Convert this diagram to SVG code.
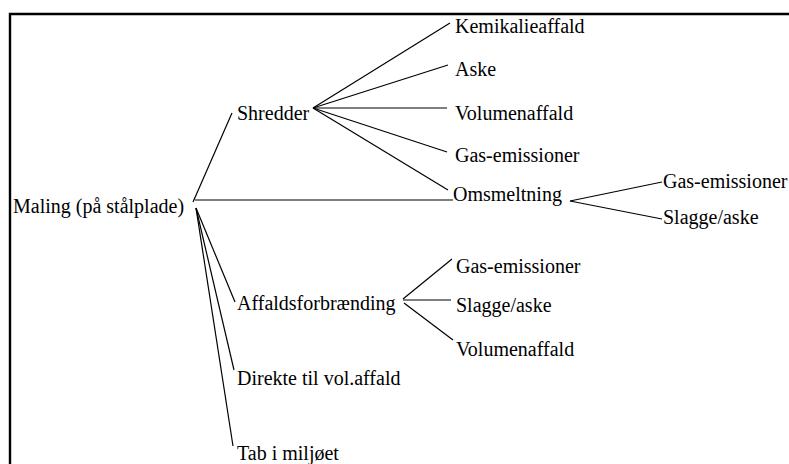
<svg xmlns="http://www.w3.org/2000/svg" width="789" height="464" viewBox="0 0 789 464" font-family="Liberation Serif" font-size="20">
<style>
text{font-family:'Liberation Serif';font-size:20px}
.c line{stroke:#000;stroke-width:1.2}
.b{stroke:#000;stroke-width:2.4;fill:none}
</style>
<rect width="789" height="464" fill="#fff"/>
<path class="b" d="M10,465 V14 H790"/>
<g class="c" id="connectors">
<line x1="193" y1="202" x2="232" y2="113"/>
<line x1="195" y1="200" x2="453" y2="200"/>
<line x1="196" y1="208" x2="235" y2="302"/>
<line x1="196" y1="208" x2="234" y2="370"/>
<line x1="196" y1="208" x2="233" y2="446"/>
<line x1="313" y1="108" x2="450" y2="23"/>
<line x1="313" y1="108" x2="448" y2="65"/>
<line x1="313" y1="108" x2="447" y2="108"/>
<line x1="313" y1="108" x2="447" y2="152"/>
<line x1="313" y1="108" x2="448" y2="190"/>
<line x1="570" y1="201" x2="662" y2="182"/>
<line x1="570" y1="201" x2="662" y2="219"/>
<line x1="403" y1="299" x2="452" y2="259"/>
<line x1="403" y1="300" x2="451" y2="300"/>
<line x1="404" y1="303" x2="453" y2="340"/>
</g>
<g id="maling"><text x="13" y="213">Maling (på stålplade)</text></g>
<g id="shredder"><text x="237" y="120">Shredder</text></g>
<g id="kemikalieaffald"><text x="455" y="33">Kemikalieaffald</text></g>
<g id="aske"><text x="455" y="76">Aske</text></g>
<g id="volumenaffald1"><text x="455" y="120">Volumenaffald</text></g>
<g id="gas1"><text x="455" y="162">Gas-emissioner</text></g>
<g id="omsmeltning"><text x="453" y="201">Omsmeltning</text></g>
<g id="gas2"><text x="663" y="188">Gas-emissioner</text></g>
<g id="slagge2"><text x="663" y="224">Slagge/aske</text></g>
<g id="affaldsforbraending"><text x="237" y="310">Affaldsforbrænding</text></g>
<g id="gas3"><text x="456" y="273">Gas-emissioner</text></g>
<g id="slagge3"><text x="456" y="312">Slagge/aske</text></g>
<g id="volumenaffald3"><text x="456" y="356">Volumenaffald</text></g>
<g id="direkte"><text x="237" y="385">Direkte til vol.affald</text></g>
<g id="tab"><text x="237" y="460">Tab i miljøet</text></g>
</svg>
